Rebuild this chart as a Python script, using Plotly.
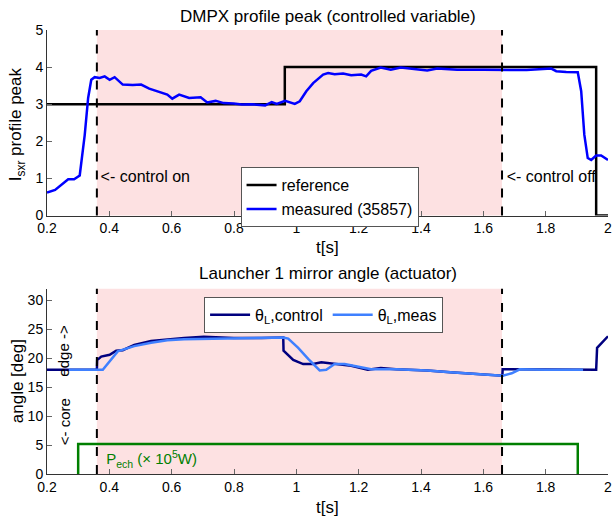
import plotly.graph_objects as go

# ---------------- data ----------------
ref_t = [0.2, 0.963, 0.963, 1.962, 1.962, 2.0]
ref_v = [3.0, 3.0, 4.0, 4.0, 0.0, 0.0]

meas_t = [0.2, 0.226, 0.268, 0.287, 0.305, 0.321, 0.332, 0.342, 0.353, 0.369, 0.385, 0.401,
          0.417, 0.443, 0.475, 0.502, 0.528, 0.565, 0.586, 0.602, 0.624, 0.656, 0.693, 0.714,
          0.741, 0.767, 0.799, 0.825, 0.857, 0.9, 0.921, 0.937, 0.964, 0.995, 1.011, 1.032,
          1.054, 1.086, 1.102, 1.123, 1.15, 1.176, 1.208, 1.224, 1.24, 1.271, 1.303, 1.335,
          1.367, 1.388, 1.42, 1.452, 1.516, 1.601, 1.665, 1.739, 1.818, 1.834, 1.866, 1.903,
          1.914, 1.924, 1.935, 1.946, 1.962, 1.978, 2.0]
meas_v = [0.62, 0.69, 0.98, 0.98, 1.08, 2.17, 3.17, 3.66, 3.73, 3.71, 3.75, 3.66,
          3.73, 3.53, 3.52, 3.53, 3.42, 3.31, 3.26, 3.15, 3.26, 3.17, 3.19, 3.05,
          3.09, 3.03, 3.02, 2.99, 3.0, 2.97, 3.06, 3.01, 3.09, 3.01, 3.08, 3.35,
          3.57, 3.8, 3.84, 3.81, 3.83, 3.78, 3.8, 3.75, 3.9, 3.99, 3.93, 3.99,
          3.96, 3.95, 3.91, 3.96, 3.93, 3.93, 3.92, 3.92, 3.96, 3.89, 3.87, 3.86,
          3.35, 2.18, 1.55, 1.5, 1.62, 1.62, 1.5]

ctrl_t = [0.2, 0.36, 0.361, 0.374, 0.401, 0.422, 0.443, 0.48, 0.534, 0.586, 0.64, 0.703,
          0.799, 0.889, 0.958, 0.959, 0.99, 1.022, 1.054, 1.08, 1.12, 1.176, 1.229, 1.271,
          1.32, 1.42, 1.494, 1.633, 1.661, 1.662, 1.962, 1.965, 1.978, 2.0]
ctrl_v = [18.0, 18.0, 19.7, 20.3, 20.6, 21.3, 21.4, 22.3, 23.0, 23.3, 23.5, 23.7,
          23.5, 23.5, 23.6, 21.3, 19.7, 19.0, 19.0, 19.3, 19.0, 18.7, 18.0, 18.3,
          18.1, 17.9, 17.6, 17.1, 17.0, 18.1, 18.0, 21.8, 22.6, 23.8]

angm_t = [0.27, 0.379, 0.427, 0.48, 0.534, 0.586, 0.64, 0.8, 0.889, 0.958, 0.974, 1.006,
          1.038, 1.075, 1.096, 1.123, 1.155, 1.197, 1.24, 1.32, 1.42, 1.494, 1.633, 1.662,
          1.691, 1.717, 1.8, 1.92]
angm_v = [18.0, 18.0, 21.2, 22.1, 22.7, 23.1, 23.3, 23.5, 23.5, 23.6, 23.4, 21.8,
          19.9, 17.9, 18.0, 19.0, 19.0, 18.6, 18.1, 18.1, 17.9, 17.6, 17.1, 17.0,
          17.4, 18.1, 18.0, 18.0]

pech_t = [0.3, 0.3, 1.903, 1.903]
pech_v = [0.0, 5.2, 5.2, 0.0]

ctrl_on, ctrl_off = 0.36, 1.66
xticks = [0.2, 0.4, 0.6, 0.8, 1.0, 1.2, 1.4, 1.6, 1.8, 2.0]
xticklabels = ["0.2", "0.4", "0.6", "0.8", "1", "1.2", "1.4", "1.6", "1.8", "2"]
yticks_top = [0, 1, 2, 3, 4, 5]
yticks_bot = [0, 5, 10, 15, 20, 25, 30]

FONT = "Liberation Sans, Arial, sans-serif"
PINK = "#fde1e2"

fig = go.Figure()

fig.add_trace(go.Scatter(x=ref_t, y=ref_v, mode="lines", name="reference",
                         line=dict(color="black", width=2.5), xaxis="x", yaxis="y",
                         legend="legend"))
fig.add_trace(go.Scatter(x=meas_t, y=meas_v, mode="lines", name="measured (35857)",
                         line=dict(color="#0000ff", width=2.5), xaxis="x", yaxis="y",
                         legend="legend"))

fig.add_trace(go.Scatter(x=ctrl_t, y=ctrl_v, mode="lines", name="θ<sub>L</sub>,control",
                         line=dict(color="#00007f", width=2.5), xaxis="x2", yaxis="y2",
                         legend="legend2"))
fig.add_trace(go.Scatter(x=angm_t, y=angm_v, mode="lines", name="θ<sub>L</sub>,meas",
                         line=dict(color="#3f80ff", width=2.5), xaxis="x2", yaxis="y2",
                         legend="legend2"))
fig.add_trace(go.Scatter(x=pech_t, y=pech_v, mode="lines", showlegend=False,
                         line=dict(color="#007f00", width=2.5), xaxis="x2", yaxis="y2"))

# text labels inside plots
fig.add_trace(go.Scatter(x=[ctrl_on + 0.012, ctrl_off + 0.015], y=[1.0, 1.0], mode="text",
                         text=["<- control on", "<- control off"], textposition="middle right",
                         textfont=dict(family=FONT, size=16, color="black"),
                         showlegend=False, xaxis="x", yaxis="y", cliponaxis=True))
fig.add_trace(go.Scatter(x=[0.39], y=[2.3], mode="text",
                         text=["P<sub>ech</sub> (× 10<sup>5</sup>W)"], textposition="middle right",
                         textfont=dict(family=FONT, size=15, color="#007f00"),
                         showlegend=False, xaxis="x2", yaxis="y2"))

axis_common = dict(showline=True, linecolor="#333333", linewidth=1, ticks="inside",
                   ticklen=5, tickcolor="#666666", showgrid=False, zeroline=False,
                   ticklabeloverflow="allow",
                   tickfont=dict(family=FONT, size=14, color="black"))

fig.update_layout(
    width=615, height=516,
    margin=dict(l=47, r=3, t=30, b=42),
    paper_bgcolor="white", plot_bgcolor="white",
    font=dict(family=FONT, size=14, color="black"),
    xaxis=dict(domain=[0, 1], range=[0.2, 2.0], tickvals=xticks, ticktext=xticklabels,
               anchor="y", **axis_common),
    yaxis=dict(domain=[0.582, 1.0], range=[0, 5], tickvals=yticks_top, anchor="x",
               **axis_common),
    xaxis2=dict(domain=[0, 1], range=[0.2, 2.0], tickvals=xticks, ticktext=xticklabels,
                anchor="y2", **axis_common),
    yaxis2=dict(domain=[0, 0.417], range=[0, 32], tickvals=yticks_bot, anchor="x2",
                **axis_common),
    legend=dict(x=0.345, y=0.691, xanchor="left", yanchor="top", bgcolor="white",
                bordercolor="#555555", borderwidth=1, font=dict(family=FONT, size=16),
                tracegroupgap=0, itemwidth=30),
    legend2=dict(x=0.28, y=0.399, xanchor="left", yanchor="top", orientation="h",
                 bgcolor="white", bordercolor="#555555", borderwidth=1,
                 font=dict(family=FONT, size=16), itemwidth=40),
)

shapes = []
for xr, yr in [("x", "y"), ("x2", "y2")]:
    shapes.append(dict(type="rect", xref=xr, yref=yr + " domain", x0=ctrl_on, x1=ctrl_off,
                       y0=0, y1=1, fillcolor=PINK, line=dict(width=0), layer="below"))
    for xv in (ctrl_on, ctrl_off):
        shapes.append(dict(type="line", xref=xr, yref=yr + " domain", x0=xv, x1=xv, y0=0, y1=1,
                           line=dict(color="black", width=2, dash="dash"), layer="above"))
# mask text that runs past the right edge of the upper axes (clipped like the original)
shapes.append(dict(type="rect", xref="paper", yref="y domain", x0=1.0015, x1=1.05, y0=0.02,
                   y1=1, fillcolor="white", line=dict(width=0), layer="above"))
fig.update_layout(shapes=shapes)

ann = [
    dict(text="DMPX profile peak (controlled variable)", x=0.5, y=(474 - 16) / 444, xref="paper",
         yref="paper", showarrow=False, font=dict(size=17), yanchor="middle"),
    dict(text="Launcher 1 mirror angle (actuator)", x=0.5, y=(474 - 273) / 444, xref="paper",
         yref="paper", showarrow=False, font=dict(size=17), yanchor="middle"),
    dict(text="t[s]", x=0.5, y=(474 - 247) / 444, xref="paper", yref="paper",
         showarrow=False, font=dict(size=17), yanchor="middle"),
    dict(text="t[s]", x=0.5, y=(474 - 507) / 444, xref="paper", yref="paper",
         showarrow=False, font=dict(size=17), yanchor="middle"),
    dict(text="I<sub>sxr</sub> profile peak", x=(17 - 47) / 565, y=(474 - 124) / 444,
         xref="paper", yref="paper", showarrow=False, textangle=-90, font=dict(size=17),
         xanchor="center", yanchor="middle"),
    dict(text="angle [deg]", x=(17 - 47) / 565, y=(474 - 381) / 444,
         xref="paper", yref="paper", showarrow=False, textangle=-90, font=dict(size=17),
         xanchor="center", yanchor="middle"),
    dict(text="edge ->", x=(64 - 47) / 565, y=21.3, xref="paper", yref="y2",
         showarrow=False, textangle=-90, font=dict(size=15), xanchor="center",
         yanchor="middle"),
    dict(text="<- core", x=(64 - 47) / 565, y=9.1, xref="paper", yref="y2",
         showarrow=False, textangle=-90, font=dict(size=15), xanchor="center",
         yanchor="middle"),
]
fig.update_layout(annotations=ann)

fig.write_html("out.html")
